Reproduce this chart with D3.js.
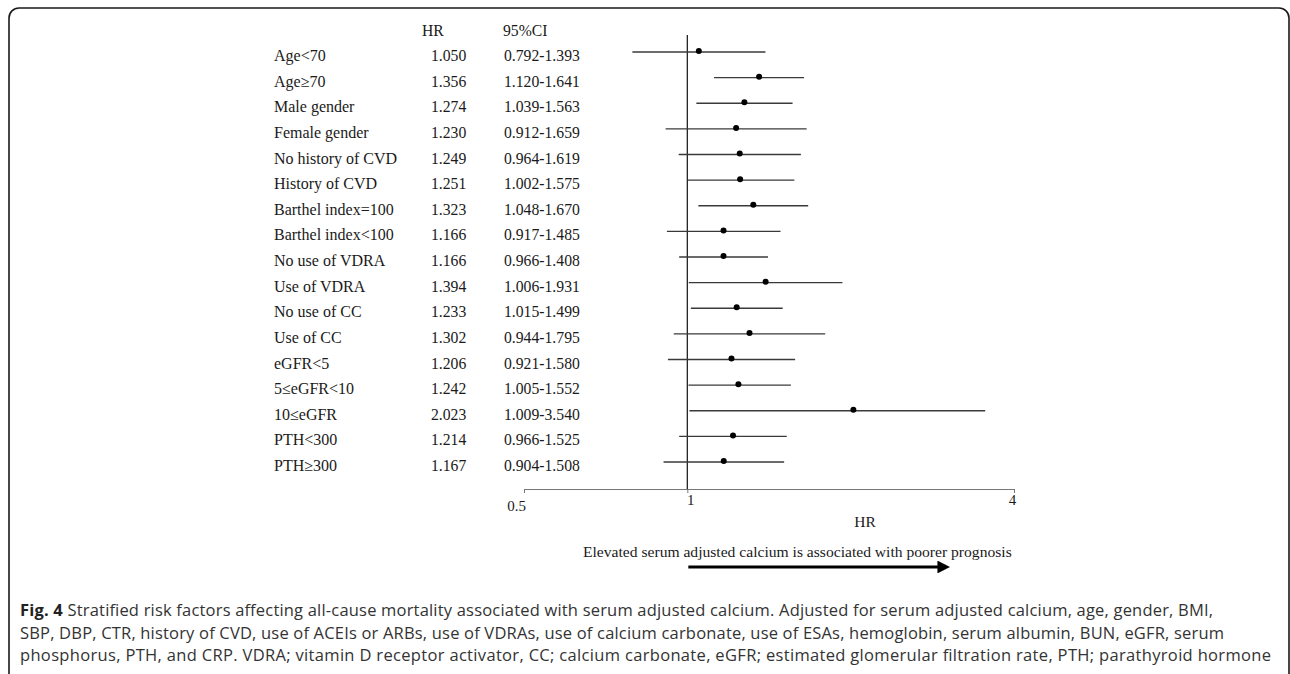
<!DOCTYPE html>
<html>
<head>
<meta charset="utf-8">
<script src="https://cdn.jsdelivr.net/npm/d3@7"></script>
<style>
  body { margin: 0; background: #fff; }
  .serif { font-family: "Liberation Serif", "Times New Roman", serif; fill: #1a1a1a; }
  .caption { font-family: "Open Sans", Lato, sans-serif; fill: #333; font-size: 16.5px; }
</style>
</head>
<body>
<div id="chart"></div>
<script>
// Chart data

var subgroups = ["Age<70", "Age\u226570", "Male gender", "Female gender", "No history of CVD",
  "History of CVD", "Barthel index=100", "Barthel index<100", "No use of VDRA", "Use of VDRA",
  "No use of CC", "Use of CC", "eGFR<5", "5\u2264eGFR<10", "10\u2264eGFR", "PTH<300", "PTH\u2265300"];

var hrValues = [1.050, 1.356, 1.274, 1.230, 1.249, 1.251, 1.323, 1.166, 1.166, 1.394,
  1.233, 1.302, 1.206, 1.242, 2.023, 1.214, 1.167];

var ciLower = [0.792, 1.120, 1.039, 0.912, 0.964, 1.002, 1.048, 0.917, 0.966, 1.006,
  1.015, 0.944, 0.921, 1.005, 1.009, 0.966, 0.904];

var ciUpper = [1.393, 1.641, 1.563, 1.659, 1.619, 1.575, 1.670, 1.485, 1.408, 1.931,
  1.499, 1.795, 1.580, 1.552, 3.540, 1.525, 1.508];

var tickValues = [0.5, 1, 4];

var captionLines = [
  "Stratified risk factors affecting all-cause mortality associated with serum adjusted calcium. Adjusted for serum adjusted calcium, age, gender, BMI,",
  "SBP, DBP, CTR, history of CVD, use of ACEIs or ARBs, use of VDRAs, use of calcium carbonate, use of ESAs, hemoglobin, serum albumin, BUN, eGFR, serum",
  "phosphorus, PTH, and CRP. VDRA; vitamin D receptor activator, CC; calcium carbonate, eGFR; estimated glomerular filtration rate, PTH; parathyroid hormone"
];

// right end of each caption line in the figure
var captionEnds = [1213, 1224, 1271];

var rows = subgroups.map(function(name, i) {
  return { name: name, hr: hrValues[i], lo: ciLower[i], hi: ciUpper[i] };
});

var svgWidth = 1290;
var svgHeight = 674;

var svg = d3.select("#chart")
  .append("svg")
  .attr("width", svgWidth)
  .attr("height", svgHeight);

// rounded frame around the figure
svg.append("rect")
  .attr("x", 9)
  .attr("y", 8)
  .attr("width", 1280)
  .attr("height", 720)
  .attr("rx", 10)
  .attr("fill", "none")
  .attr("stroke", "#1a1a1a")
  .attr("stroke-width", 1.6);

// scales
var xScale = d3.scaleLog()
  .base(2)
  .domain([0.5, 4])
  .range([524, 1014]);

var yScale = d3.scalePoint()
  .domain(d3.range(rows.length))
  .range([52, 462]);

// table columns
var table = svg.append("g").attr("class", "serif").style("font-size", "15.7px");

table.append("text").attr("x", 422).attr("y", 36).text("HR");
table.append("text").attr("x", 503).attr("y", 36).text("95%CI");

var rowText = table.selectAll(".row")
  .data(rows)
  .enter()
  .append("g")
  .attr("class", "row")
  .attr("transform", (d, i) => `translate(0, ${yScale(i) + 9})`);

rowText.append("text").attr("x", 274).style("font-size", "16px").text(d => d.name);
rowText.append("text").attr("x", 431).text(d => d.hr.toFixed(3));
rowText.append("text").attr("x", 504).text(d => d.lo.toFixed(3) + "-" + d.hi.toFixed(3));

// reference line at HR = 1
svg.append("line")
  .attr("x1", xScale(1))
  .attr("x2", xScale(1))
  .attr("y1", 35)
  .attr("y2", 489)
  .attr("stroke", "#222")
  .attr("stroke-width", 1.3);

// confidence intervals and point estimates
var marks = svg.append("g");

marks.selectAll("line")
  .data(rows)
  .enter()
  .append("line")
  .attr("x1", d => xScale(d.lo))
  .attr("x2", d => xScale(d.hi))
  .attr("y1", (d, i) => yScale(i))
  .attr("y2", (d, i) => yScale(i))
  .attr("stroke", "#3a3a3a")
  .attr("stroke-width", 1.3);

marks.selectAll("circle")
  .data(rows)
  .enter()
  .append("circle")
  .attr("cx", d => xScale(d.hr))
  .attr("cy", (d, i) => yScale(i) - 1)
  .attr("r", 3)
  .attr("fill", "#000");

// x axis
var bottomAxis = d3.axisBottom(xScale)
  .tickValues(tickValues)
  .tickFormat(d => d)
  .tickSizeInner(4)
  .tickSizeOuter(0);

var xAxis = svg.append("g")
  .attr("transform", "translate(0, 489)")
  .call(bottomAxis);

xAxis.select(".domain").attr("stroke", "#777").attr("stroke-width", 1.2);
xAxis.selectAll(".tick line").attr("stroke", "#777");
xAxis.selectAll(".tick text")
  .attr("class", "serif")
  .style("font-size", "15px")
  .attr("fill", "#1a1a1a")
  .attr("dy", (d, i) => i === 0 ? "1.0em" : "0.6em")
  .attr("dx", (d, i) => i === 0 ? -8 : (i === 1 ? 3 : -2));

svg.append("text")
  .attr("class", "serif")
  .style("font-size", "15.5px")
  .attr("x", 865)
  .attr("y", 527)
  .attr("text-anchor", "middle")
  .text("HR");

// direction note and arrow
svg.append("text")
  .attr("class", "serif")
  .style("font-size", "15.6px")
  .attr("x", 583)
  .attr("y", 557)
  .text("Elevated serum adjusted calcium is associated with poorer prognosis");

svg.append("defs")
  .append("marker")
  .attr("id", "arrowhead")
  .attr("viewBox", "0 0 10 10")
  .attr("refX", 2)
  .attr("refY", 5)
  .attr("markerWidth", 4)
  .attr("markerHeight", 4)
  .attr("orient", "auto")
  .append("path")
  .attr("d", "M0,0 L10,5 L0,10 z")
  .attr("fill", "#000");

svg.append("line")
  .attr("x1", xScale(1) + 1)
  .attr("x2", 940)
  .attr("y1", 567)
  .attr("y2", 567)
  .attr("stroke", "#000")
  .attr("stroke-width", 3.2)
  .attr("marker-end", "url(#arrowhead)");

// caption
var caption = svg.append("g").attr("class", "caption");

caption.selectAll("text")
  .data(captionLines)
  .enter()
  .append("text")
  .attr("x", 20)
  .attr("y", (d, i) => 616 + i * 22.5)
  .attr("textLength", (d, i) => captionEnds[i] - 20)
  .attr("lengthAdjust", "spacing")
  .each(function(d, i) {
    var t = d3.select(this);
    if (i === 0) {
      t.append("tspan").style("font-weight", "bold").attr("fill", "#222").text("Fig. 4 ");
    }
    t.append("tspan").text(d);
  });
</script>
</body>
</html>
